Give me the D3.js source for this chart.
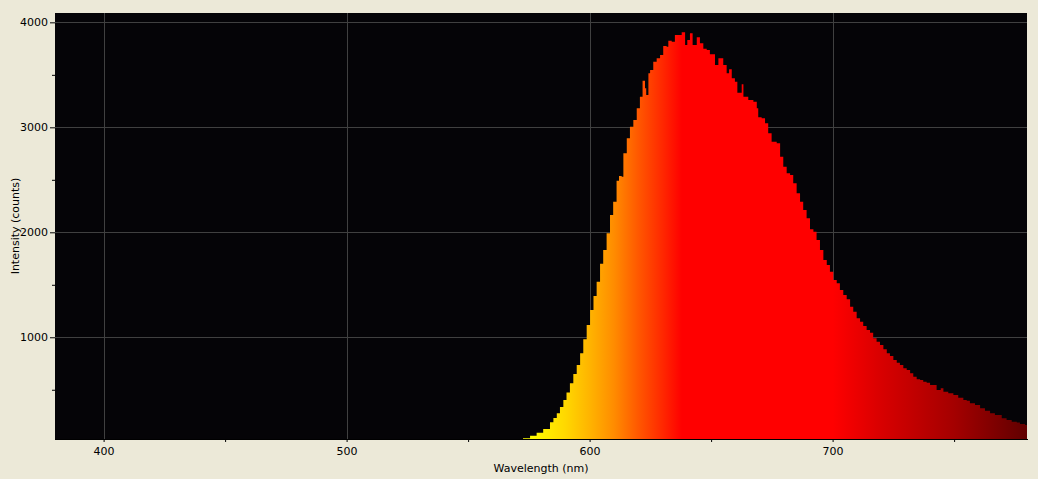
<!DOCTYPE html>
<html>
<head>
<meta charset="utf-8">
<script src="https://cdn.jsdelivr.net/npm/d3@7/dist/d3.min.js"></script>
<style>
  html, body { margin: 0; padding: 0; background: #ece9d8; }
  svg { display: block; }
  text { font-family: "DejaVu Sans", Verdana, sans-serif; font-size: 11px; fill: #000; }
</style>
</head>
<body>
<svg id="chart" width="1038" height="479"></svg>
<script>
// ---- data ----
const wavelengths = [
  572.6, 575.5, 578.2, 580.9, 583.7, 585.1, 586.5, 587.8, 589.2, 590.5,
  591.9, 593.3, 594.7, 596.1, 597.4, 598.8, 600.2, 601.6, 602.9, 604.3,
  605.6, 607.0, 608.4, 609.7, 611.1, 612.1, 613.2, 613.9,
  615.3, 616.6, 618.0, 619.4, 620.7, 621.8, 622.8, 623.3, 624.2, 624.9,
  626.2, 627.6, 629.0, 630.3, 631.7, 632.4, 633.8, 635.1, 636.5, 637.9,
  639.3, 640.2, 641.3, 642.4, 644.1, 645.4, 646.8, 648.2, 649.5, 651.6,
  653.0, 655.0, 656.4, 657.4, 658.5, 659.8, 660.8, 662.6, 663.3, 665.3,
  667.4, 668.8, 669.4, 670.8, 672.2, 673.5, 674.9, 677.0, 678.4, 679.7,
  681.1, 682.5, 683.8, 685.2, 686.6, 687.9, 689.3, 690.7, 692.1, 693.4,
  694.8, 696.2, 697.6, 698.9, 700.3, 701.7, 703.0, 704.4, 705.8, 707.2,
  708.5, 709.9, 711.3, 712.6, 714.0, 715.4, 716.7, 718.1, 719.5, 720.9,
  722.3, 723.6, 725.0, 726.4, 727.7, 729.1, 730.5, 731.9, 733.2, 734.6,
  736.0, 737.3, 738.7, 740.1, 741.4, 742.8, 744.5, 745.6, 747.6, 749.7,
  751.7, 753.8, 755.2, 756.5, 758.6, 760.7, 762.7, 764.8, 766.8, 768.2,
  769.6, 771.6, 773.7, 775.8, 777.1, 779.2, 780.0
];
const intensity = [
  38, 63, 91, 127, 190, 230, 276, 335, 403, 475,
  562, 650, 736, 848, 981, 1117, 1260, 1393, 1530, 1700,
  1831, 1990, 2165, 2291, 2491, 2536, 2530, 2752,
  2895, 3006, 3070, 3181, 3291, 3444, 3371, 3307, 3514, 3546,
  3625, 3657, 3689, 3774, 3768, 3825, 3815, 3879, 3879, 3905,
  3784, 3831, 3895, 3784, 3857, 3800, 3748, 3736, 3695, 3593,
  3657, 3593, 3514, 3552, 3467, 3435, 3330, 3410, 3291, 3260,
  3244, 3181, 3095, 3086, 3038, 2943, 2863, 2848, 2720, 2625,
  2562, 2546, 2467, 2371, 2291, 2212, 2133, 2029, 2006, 1926,
  1831, 1736, 1689, 1625, 1546, 1514, 1450, 1403, 1362, 1291,
  1244, 1181, 1149, 1108, 1070, 1044, 990, 958, 927, 886,
  848, 822, 784, 758, 736, 705, 689, 657, 625, 600,
  593, 577, 568, 546, 546, 498, 514, 482, 467, 450,
  425, 403, 396, 371, 355, 324, 301, 276, 260, 260,
  228, 212, 196, 187, 174, 165, 165
];
const xTicks = [400, 500, 600, 700];
const xMinorTicks = [450, 550, 650, 750];
const yTicks = [1000, 2000, 3000, 4000];
const yMinorTicks = [500, 1500, 2500, 3500];
const xDomain = [380, 780];
const yDomain = [31, 4089];
const xLabel = "Wavelength (nm)";
const yLabel = "Intensity (counts)";

// ---- colour gradient (style) ----
const gradStops = [
  [575, "#ffff00"], [590, "#ffd800"], [600, "#ffb400"], [610, "#ff8c00"],
  [620, "#ff5800"], [630, "#ff2800"], [638, "#ff0000"], [700, "#ff0000"],
  [720, "#d80000"], [750, "#a40000"], [780, "#600000"]
];

// ---- layout ----
const L = 55, R = 1027, T = 13, B = 439;
const svg = d3.select("#chart");
const x = d3.scaleLinear().domain(xDomain).range([L, R]);
const y = d3.scaleLinear().domain(yDomain).range([B, T]);

// plot background
svg.append("rect").attr("x", L).attr("y", T).attr("width", R - L).attr("height", B - T)
  .attr("fill", "#050407");

// gridlines
const grid = svg.append("g").attr("stroke", "#404040").attr("stroke-width", 1);
xTicks.forEach(v => {
  const px = Math.round(x(v)) + 0.5;
  grid.append("line").attr("x1", px).attr("x2", px).attr("y1", T).attr("y2", B);
});
yTicks.forEach(v => {
  const py = Math.round(y(v)) + 0.5;
  grid.append("line").attr("x1", L).attr("x2", R).attr("y1", py).attr("y2", py);
});

// gradient
const defs = svg.append("defs");
const lg = defs.append("linearGradient").attr("id", "spec")
  .attr("gradientUnits", "userSpaceOnUse")
  .attr("x1", x(xDomain[0])).attr("x2", x(xDomain[1])).attr("y1", 0).attr("y2", 0);
gradStops.forEach(([w, c]) => {
  lg.append("stop").attr("offset", (w - xDomain[0]) / (xDomain[1] - xDomain[0])).attr("stop-color", c);
});
defs.append("clipPath").attr("id", "clip").append("rect")
  .attr("x", L).attr("y", T).attr("width", R - L).attr("height", B - T);

const data = wavelengths.map((w, i) => ({ w, v: intensity[i] }));
const area = d3.area()
  .x(d => x(d.w))
  .y0(B)
  .y1(d => y(d.v))
  .curve(d3.curveStepAfter);
svg.append("path").datum(data)
  .attr("clip-path", "url(#clip)")
  .attr("fill", "url(#spec)")
  .attr("d", area);

// plot frame bottom edge
svg.append("line").attr("x1", L).attr("x2", R + 1).attr("y1", B + 0.5).attr("y2", B + 0.5)
  .attr("stroke", "#000");

// axes
const fmt = d3.format("d");
const xAxis = svg.append("g").attr("transform", `translate(0,${B})`)
  .call(d3.axisBottom(x).tickValues(xTicks).tickSize(3).tickPadding(5).tickFormat(fmt));
const xMinor = svg.append("g").attr("transform", `translate(0,${B})`)
  .call(d3.axisBottom(x).tickValues(xMinorTicks).tickSize(3).tickFormat(""));
const yAxis = svg.append("g").attr("transform", `translate(${L},0)`)
  .call(d3.axisLeft(y).tickValues(yTicks).tickSize(5).tickPadding(2).tickFormat(fmt));
const yMinor = svg.append("g").attr("transform", `translate(${L},0)`)
  .call(d3.axisLeft(y).tickValues(yMinorTicks).tickSize(3).tickFormat(""));
[xAxis, xMinor, yAxis, yMinor].forEach(g => {
  g.select(".domain").remove();
  g.selectAll(".tick line").attr("stroke", "#000");
  g.selectAll("text").attr("font-family", "DejaVu Sans, Verdana, sans-serif")
    .attr("font-size", 11).attr("fill", "#000");
});

// axis titles
svg.append("text").attr("x", (L + R) / 2).attr("y", 472).attr("text-anchor", "middle").text(xLabel);
svg.append("text").attr("transform", `translate(19,${(T + B) / 2}) rotate(-90)`)
  .attr("text-anchor", "middle").text(yLabel);
</script>
</body>
</html>
